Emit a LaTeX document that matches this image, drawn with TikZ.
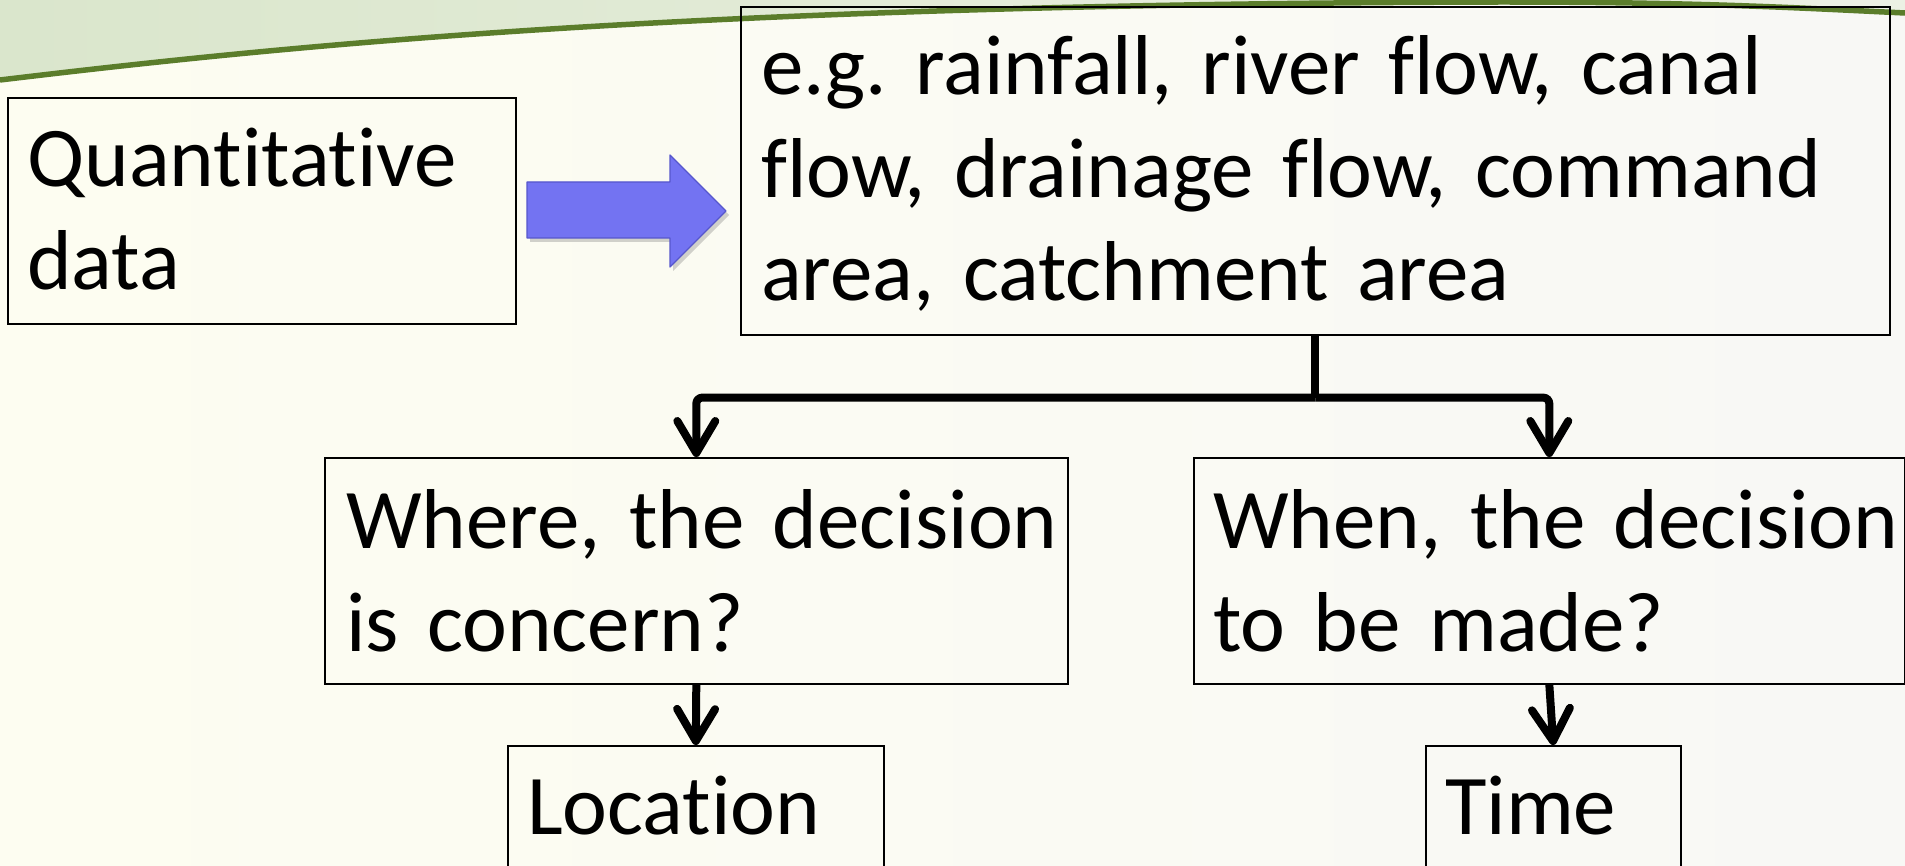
\documentclass[tikz,border=0pt]{standalone}
\usepackage{fontspec}
\setmainfont{Carlito}[Ligatures=NoCommon]
\usetikzlibrary{arrows.meta,calc,shadows}
\definecolor{bglow}{HTML}{F8F8F5}
\definecolor{bgwarm}{HTML}{FDFDF1}
\definecolor{bgtopl}{HTML}{DAE6CC}
\definecolor{bgtopr}{HTML}{ECF1E4}
\definecolor{swoosh}{HTML}{5B7D2B}
\definecolor{arrowfill}{HTML}{7373F2}
\definecolor{arrowline}{HTML}{5656CC}
\newcommand\myboxfont{\fontsize{85}{103}\selectfont\frenchspacing\spaceskip 17pt\relax}
\begin{document}
\frenchspacing
\begin{tikzpicture}[x=1pt,y=-1pt,
  box/.style={draw=black,line width=1.6pt,anchor=north west,inner sep=0pt},
  txt/.style={anchor=base west,inner sep=0pt,align=left,text width=1300pt,
              font=\myboxfont},
  conn/.style={line width=8pt,line join=round,rounded corners=6pt},
  tip/.style={-{Straight Barb[length=32pt,width=38pt,line cap=round,line join=round]}}
]
\useasboundingbox (0,0) rectangle (1905,866);
\clip (0,0) rectangle (1905,866);
% background
\shade[left color=bgwarm,right color=bglow] (0,0) rectangle (1905,866);
\shade[left color=bgtopl,right color=bgtopr]
  (0,0) -- (0,80) .. controls (300,44) and (700,4) .. (1500,2)
  .. controls (1700,2) and (1800,8) .. (1905,13) -- (1905,0) -- cycle;
\draw[swoosh,line width=5.5pt]
  (0,80) .. controls (300,44) and (700,4) .. (1500,2)
  .. controls (1700,2) and (1800,8) .. (1905,13);
% boxes
\node[box,minimum width=508pt,minimum height=226pt] (q) at (7,97) {};
\node[box,minimum width=1149pt,minimum height=328pt] (eg) at (740,6) {};
\node[box,minimum width=743pt,minimum height=226pt] (where) at (324,457) {};
\node[box,minimum width=711pt,minimum height=226pt] (when) at (1193,457) {};
\node[box,minimum width=376pt,minimum height=200pt] (loc) at (507,745) {};
\node[box,minimum width=255pt,minimum height=200pt] (time) at (1425,745) {};
% texts
\node[txt] (qt) at ($(q.north west)+(20,90)$) {Quantitative\\data};
\node[txt] (egt) at ($(eg.north west)+(21,89)$) {e.g. rainfall, river flow, canal\\flow, drainage flow, command\\area, catchment area};
\node[txt] (wheret) at ($(where.north west)+(22,91)$) {Where, the decision\\is concern?};
\node[txt] (whent) at ($(when.north west)+(20,91)$) {When, the decision\\to be made?};
\node[txt] (loct) at ($(loc.north west)+(20,89)$) {Location};
\node[txt] (timet) at ($(time.north west)+(20,89)$) {Time};
% blue block arrow
\draw[fill=arrowfill,draw=arrowline,line width=1.2pt,line join=round,
      drop shadow={opacity=0.35,shadow xshift=3pt,shadow yshift=-4pt}]
  (527,182) -- (670,182) -- (670,155) -- (726,211) -- (670,267) -- (670,238) -- (527,238) -- cycle;
% connectors
\draw[conn] (eg.south) -- ++(0,62) coordinate (j);
\draw[conn,tip] (j) -| (where.north);
\draw[conn,tip] (j) -| (when.north);
\draw[conn,tip] (where.south) -- (loc.north);
\draw[conn,tip] (when.south) -- (time.north);
\end{tikzpicture}
\end{document}
